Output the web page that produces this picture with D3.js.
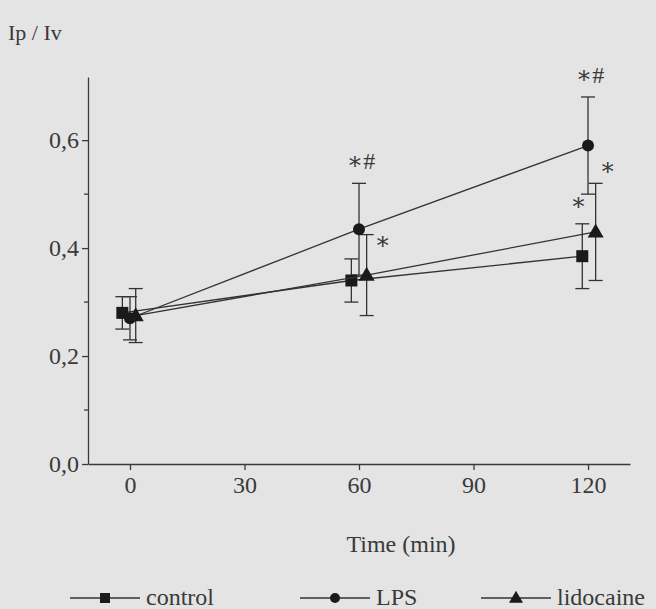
<!DOCTYPE html>
<html>
<head>
<meta charset="utf-8">
<script src="https://cdn.jsdelivr.net/npm/d3@7"></script>
<style>
  html, body { margin: 0; padding: 0; background: #e4e4e4; }
  svg text { font-family: "Liberation Serif", "DejaVu Serif", serif; fill: #3a3a3a; }
  .axis path, .axis line { stroke: #3a3a3a; stroke-width: 1.3; }
</style>
</head>
<body>
<div id="chart"></div>
<script>
// time points (min) and plotted positions (slightly shifted per group as in the figure)
var times = [0, 60, 120];
var controlX = [-2, 58, 118.5];
var lpsX = [0, 60, 120];
var lidoX = [1.5, 62, 122];

// Ip / Iv means and error bars
var controlMean = [0.28, 0.34, 0.385];
var controlErr = [0.03, 0.04, 0.06];
var lpsMean = [0.27, 0.435, 0.59];
var lpsErr = [0.04, 0.085, 0.09];
var lidoMean = [0.275, 0.35, 0.43];
var lidoErr = [0.05, 0.075, 0.09];

var xTicks = [0, 30, 60, 90, 120];
var yTicks = [0, 0.2, 0.4, 0.6];
var yMinorTicks = [0.1, 0.3, 0.5];

// significance marks: series, time index, label
var marks = [
    { series: "LPS", i: 1, label: "∗#" },
    { series: "lidocaine", i: 1, label: "∗" },
    { series: "LPS", i: 2, label: "∗#" },
    { series: "lidocaine", i: 2, label: "∗" },
    { series: "control", i: 2, label: "∗" }
];
// label offsets from the top of the error bar (px)
var markOffsets = [[2, -14], [16, 14], [2, -14], [12, -8], [-4, -14]];

var series = [
    { name: "control", x: controlX, mean: controlMean, err: controlErr, shape: "square" },
    { name: "LPS", x: lpsX, mean: lpsMean, err: lpsErr, shape: "circle" },
    { name: "lidocaine", x: lidoX, mean: lidoMean, err: lidoErr, shape: "triangle" }
];

var W = 656, H = 609;
var svg = d3.select("#chart").append("svg")
    .attr("width", W)
    .attr("height", H);

var x = d3.scaleLinear().domain([-11, 131]).range([88, 630]);
var y = d3.scaleLinear().domain([0, 0.717]).range([464, 77]);

// axes
var xAxis = d3.axisBottom(x).tickValues(xTicks).tickSize(6).tickPadding(6)
    .tickSizeOuter(0);
var gx = svg.append("g").attr("class", "axis")
    .attr("transform", "translate(0," + y(0) + ")")
    .call(xAxis);

var fmt = function(d) { return d3.format(".1f")(d).replace(".", ","); };
var yAxis = d3.axisLeft(y).tickValues(yTicks).tickFormat(fmt).tickSize(6).tickPadding(3)
    .tickSizeOuter(0);
var gy = svg.append("g").attr("class", "axis")
    .attr("transform", "translate(" + x(-11) + ",0)")
    .call(yAxis);

gy.selectAll(".minor").data(yMinorTicks).enter().append("line")
    .attr("class", "minor")
    .attr("x1", -4).attr("x2", 0)
    .attr("y1", function(d) { return y(d); })
    .attr("y2", function(d) { return y(d); });

svg.selectAll(".axis text").style("font-size", "24px").attr("fill", "#3a3a3a");

svg.append("text")
    .attr("x", 8).attr("y", 40)
    .style("font-size", "22px")
    .text("Ip / Iv");

svg.append("text")
    .attr("x", (x(0) + x(120)) / 2 + 42).attr("y", 552)
    .attr("text-anchor", "middle")
    .style("font-size", "24px")
    .text("Time (min)");

// marker drawing; s = width of the mark
function drawMarker(g, shape, cx, cy, s) {
    if (shape === "square") {
        g.append("rect").attr("x", cx - s / 2).attr("y", cy - s / 2)
            .attr("width", s).attr("height", s).attr("fill", "#1a1a1a");
    } else if (shape === "circle") {
        g.append("circle").attr("cx", cx).attr("cy", cy).attr("r", s / 2)
            .attr("fill", "#1a1a1a");
    } else {
        var h = s * 0.87;
        var p = d3.path();
        p.moveTo(cx, cy - h * 0.6);
        p.lineTo(cx + s / 2, cy + h * 0.4);
        p.lineTo(cx - s / 2, cy + h * 0.4);
        p.closePath();
        g.append("path").attr("d", p.toString()).attr("fill", "#1a1a1a");
    }
}

var line = d3.line()
    .x(function(d) { return x(d.t); })
    .y(function(d) { return y(d.v); });

var plot = svg.append("g");
var lineColor = "#333";

// error bars first
series.forEach(function(s) {
    var g = plot.append("g");
    s.mean.forEach(function(m, i) {
        var cx = x(s.x[i]);
        g.append("line").attr("x1", cx).attr("x2", cx)
            .attr("y1", y(m - s.err[i])).attr("y2", y(m + s.err[i]))
            .attr("stroke", lineColor).attr("stroke-width", 1.3);
        [m - s.err[i], m + s.err[i]].forEach(function(v) {
            g.append("line").attr("x1", cx - 7).attr("x2", cx + 7)
                .attr("y1", y(v)).attr("y2", y(v))
                .attr("stroke", lineColor).attr("stroke-width", 1.3);
        });
    });
});

// connecting lines and markers
series.forEach(function(s) {
    var pts = s.mean.map(function(m, i) { return { t: s.x[i], v: m }; });
    plot.append("path").attr("d", line(pts))
        .attr("fill", "none").attr("stroke", lineColor).attr("stroke-width", 1.3);
    var g = plot.append("g");
    pts.forEach(function(p) {
        drawMarker(g, s.shape, x(p.t), y(p.v), s.shape === "triangle" ? 16 : 12);
    });
});

// significance labels
marks.forEach(function(mk, k) {
    var s = series.filter(function(d) { return d.name === mk.series; })[0];
    var top = y(s.mean[mk.i] + s.err[mk.i]);
    var cx = x(s.x[mk.i]);
    plot.append("text")
        .attr("x", cx + markOffsets[k][0]).attr("y", top + markOffsets[k][1])
        .attr("text-anchor", "middle")
        .style("font-size", "24px")
        .text(mk.label);
});

// legend
var legendX = [70, 300, 481];
var legend = svg.append("g");
series.forEach(function(s, i) {
    var lx = legendX[i], ly = 598;
    legend.append("line").attr("x1", lx).attr("x2", lx + 70)
        .attr("y1", ly).attr("y2", ly)
        .attr("stroke", lineColor).attr("stroke-width", 1.5);
    var g = legend.append("g");
    drawMarker(g, s.shape, lx + 35, ly, s.shape === "triangle" ? 14 : 10);
    legend.append("text")
        .attr("x", lx + 76).attr("y", ly + 7)
        .style("font-size", "24px")
        .text(s.name);
});
</script>
</body>
</html>
